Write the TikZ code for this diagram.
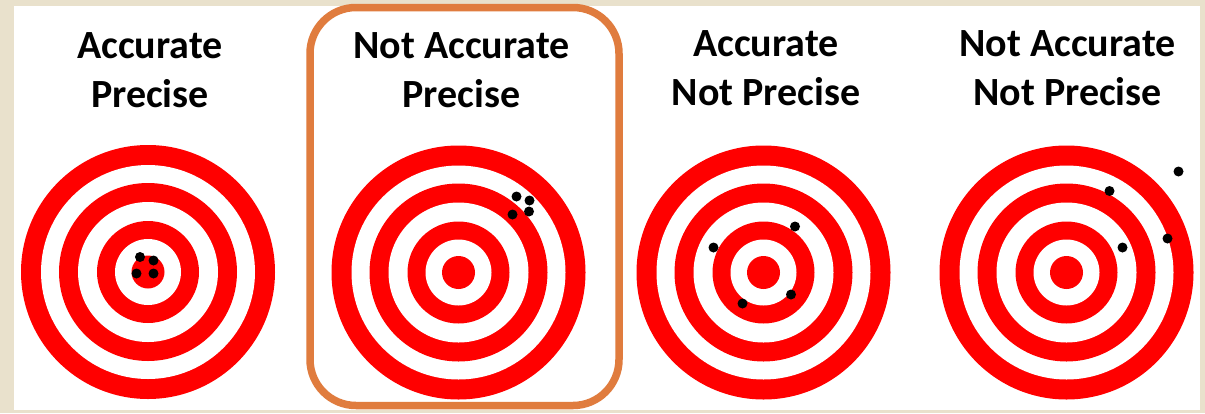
\documentclass[tikz,border=0pt]{standalone}
\usepackage{fontspec}
\setmainfont{Carlito}
\definecolor{framebeige}{RGB}{233,225,204}
\definecolor{boxorange}{RGB}{224,124,62}
\definecolor{tred}{RGB}{255,0,0}
\tikzset{
  label/.style={anchor=base, inner sep=0pt, font=\fontsize{40}{48}\selectfont\bfseries, text=black},
  hole/.style={fill=black},
  target/.pic={
    \fill[tred]  (0,0) circle (127pt);
    \fill[white] (0,0) circle (107pt);
    \fill[tred]  (0,0) circle (89pt);
    \fill[white] (0,0) circle (70pt);
    \fill[tred]  (0,0) circle (51pt);
    \fill[white] (0,0) circle (33pt);
    \fill[tred]  (0,0) circle (16.5pt);
  }
}
\begin{document}
\begin{tikzpicture}[x=1pt,y=-1pt]
\useasboundingbox (0,0) rectangle (1205,413);
\fill[framebeige] (0,0) rectangle (1205,413);
\fill[white] (14,6) rectangle (1200,410);

% targets
\pic at (148,272) {target};
\pic at (458.5,272.5) {target};
\pic at (763.5,272.5) {target};
\pic at (1066.5,272.5) {target};

% shots
\fill[hole] (140,257) circle (5pt);
\fill[hole] (153.5,260.5) circle (5pt);
\fill[hole] (136.5,273.5) circle (5pt);
\fill[hole] (153.5,273.5) circle (5pt);

\fill[hole] (516.5,196.5) circle (5pt);
\fill[hole] (529.5,200.5) circle (5pt);
\fill[hole] (512.5,214.5) circle (5pt);
\fill[hole] (529,211.5) circle (5pt);

\fill[hole] (795,226.5) circle (5pt);
\fill[hole] (713.5,247.5) circle (5pt);
\fill[hole] (742.5,303.5) circle (5pt);
\fill[hole] (791,294.5) circle (5pt);

\fill[hole] (1178.5,171.5) circle (5pt);
\fill[hole] (1109.5,191) circle (5pt);
\fill[hole] (1167.5,238.5) circle (5pt);
\fill[hole] (1122.5,247.5) circle (5pt);

% labels
\node[label] (a1) at (150,58.5) {Accurate};
\node[label] (b1) at (150,107.5) {Precise};
\node[label] (a2) at (461.5,58.5) {Not Accurate};
\node[label] (b2) at (461.5,107.5) {Precise};
\node[label] (a3) at (766,56) {Accurate};
\node[label] (b3) at (766,105) {Not Precise};
\node[label] (a4) at (1067.5,56.5) {Not Accurate};
\node[label] (b4) at (1067.5,105) {Not Precise};

% highlight box
\node[draw=boxorange, line width=7.5pt, rounded corners=46pt, minimum width=309pt, minimum height=398pt, inner sep=0pt] (box) at (464.5,206.5) {};
\end{tikzpicture}
\end{document}
